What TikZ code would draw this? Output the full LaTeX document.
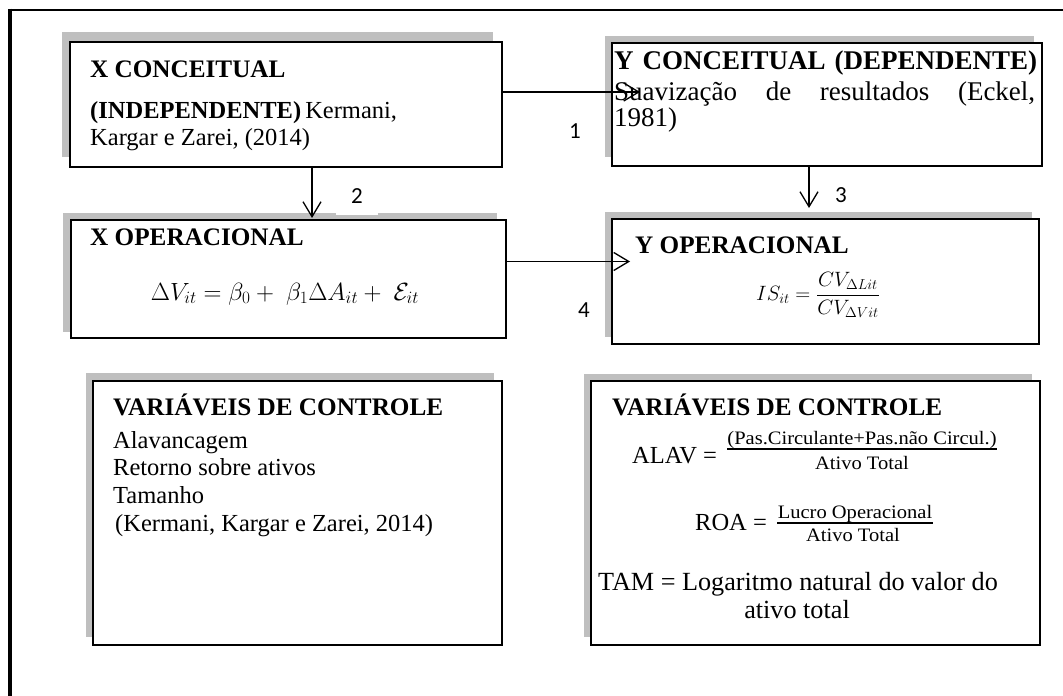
\documentclass[tikz,border=0pt]{standalone}
\usepackage{fontspec}
\setmainfont{Liberation Serif}
\newfontfamily\calibfont{Carlito}
\newfontfamily\cambfont[FakeStretch=1.08]{Liberation Serif}
\usetikzlibrary{arrows.meta,fit}
\begin{document}
\begin{tikzpicture}[x=1pt,y=-1pt,
  box/.style={draw=black,line width=2.2pt,fill=white,inner sep=0pt,outer sep=0pt},
  shade/.style={fill=gray!50},
  tx/.style={anchor=base west,inner sep=0pt,font=\fontsize{24.5}{29}\selectfont},
  tb/.style={anchor=base west,inner sep=0pt,font=\fontsize{25.2}{29}\selectfont\bfseries},
  txb/.style={anchor=base west,inner sep=0pt,font=\fontsize{27}{30}\selectfont},
  tc/.style={anchor=base,inner sep=0pt,font=\fontsize{26.2}{30}\selectfont},
  cb/.style={anchor=base,inner sep=0pt,font=\cambfont\fontsize{19}{22}\selectfont},
  mth/.style={inner sep=0pt,font=\fontsize{26}{30}\selectfont},
  mth2/.style={inner sep=0pt,font=\fontsize{22}{26}\selectfont},
  num/.style={inner sep=0pt,font=\calibfont\fontsize{23}{27}\selectfont},
  conn/.style={line width=1.3pt,-{Straight Barb[length=15pt,width=18pt]}},
  fbar/.style={line width=1.8pt}
]
\useasboundingbox (0,0) rectangle (1063,696);
% outer frame
\coordinate (ftl) at (10,10);
\coordinate (ftr) at (1063,10);
\coordinate (fbl) at (10,696);
\draw[line width=1.5pt] (ftl) -- (ftr);
\draw[line width=4pt] ([yshift=1.5pt]ftl) -- (fbl);

% boxes with shadows
\fill[shade] (62,32) rectangle (493,157);
\node[box,fit={(70,42)(502,167)}] (b1) {};
\fill[shade] (605,36) rectangle (1034,157);
\node[box,fit={(612,43)(1042,166)}] (b2) {};
\fill[shade] (63,213) rectangle (497,332);
\node[box,fit={(71,220)(506,338)}] (b3) {};
\fill[shade] (605,212) rectangle (1032,337);
\node[box,fit={(612,219)(1039,344)}] (b4) {};
\fill[shade] (86,373) rectangle (494,637);
\node[box,fit={(93,381)(502,645)}] (b5) {};
\fill[shade] (584,374) rectangle (1032,637);
\node[box,fit={(591,381)(1040,645)}] (b6) {};

% box 1
\node[tb] (t1a) at (90,77) {X CONCEITUAL};
\node[tx] (t1b) at (90,118) {\makebox[297pt][s]{\textbf{(INDEPENDENTE)} Kermani,}};
\node[tx] (t1c) at (90,145) {Kargar e Zarei, (2014)};
% box 2
\node[txb] (t2a) at (614,69) {\makebox[423pt][s]{\textbf{Y CONCEITUAL (DEPENDENTE)}}};
\node[txb] (t2b) at (614,100) {\makebox[421pt][s]{Suavização de resultados (Eckel,}};
\node[txb] (t2c) at (614,126) {1981)};
% box 3
\node[tb] (t3a) at (90,245) {X OPERACIONAL};
\node[mth,anchor=base] (t3b) at (285,300) {$\Delta V_{it} = \beta_0 +\ \beta_1\Delta A_{it} +\ \mathcal{E}_{it}$};
% box 4
\node[tb] (t4a) at (635,253) {Y OPERACIONAL};
\node[mth2,anchor=west] (t4b) at (756,295) {$\displaystyle IS_{it} = \frac{CV_{\Delta Lit}}{CV_{\Delta Vit}}$};
% box 5
\node[tb] (t5a) at (113,415) {VARIÁVEIS DE CONTROLE};
\node[tx] (t5b) at (113,448) {Alavancagem};
\node[tx] (t5c) at (113,475) {Retorno sobre ativos};
\node[tx] (t5d) at (113,503) {Tamanho};
\node[tx] (t5e) at (115,531) {(Kermani, Kargar e Zarei, 2014)};
% box 6
\node[tb] (t6a) at (612,415) {VARIÁVEIS DE CONTROLE};
\node[tx] (t6b) at (632,463) {ALAV =};
\draw[fbar] (727,449) -- (997,449);
\node[cb] (t6c) at (862,444) {(Pas.Circulante+Pas.não Circul.)};
\node[cb] (t6d) at (862,469) {Ativo Total};
\node[tx] (t6e) at (695,530) {ROA =};
\draw[fbar] (777,523) -- (933,523);
\node[cb] (t6f) at (855,518) {Lucro Operacional};
\node[cb] (t6g) at (853,541) {Ativo Total};
\node[tc] (t6h) at (798,590) {TAM = Logaritmo natural do valor do};
\node[tc] (t6i) at (797,618) {ativo total};

% connectors
\coordinate (a1) at (640,92);
\draw[conn] (b1.east |- a1) -- (a1);
\coordinate (a2) at (312,218);
\draw[conn] (b1.south -| a2) -- (a2);
\coordinate (a3) at (809,208);
\draw[conn] (b2.south -| a3) -- (a3);
\coordinate (a4) at (630,261.5);
\draw[conn] (b3.east |- a4) -- (a4);

% labels
\node[num] (n1) at (575,131) {1};
\node[num,fill=white,minimum width=42pt,minimum height=38pt] (n2) at (357,196) {2};
\node[num] (n3) at (841,195) {3};
\node[num] (n4) at (584,310) {4};
\end{tikzpicture}
\end{document}
